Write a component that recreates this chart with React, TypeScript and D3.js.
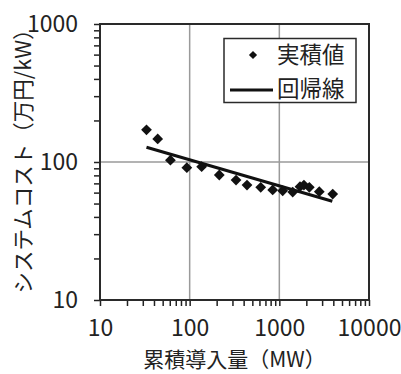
import React, { useRef, useEffect } from 'react'
import * as d3 from 'd3'

// 実績値 (cumulative MW vs cost 万円/kW)
const installedMW = [33, 44, 61, 93, 136, 214, 329, 436, 620, 843, 1090, 1410, 1700, 1880, 2160, 2790, 3940]
const costValues = [171, 147, 103, 91, 92.5, 80.5, 74, 68, 65.6, 62.7, 61.9, 60.6, 66.2, 68, 65.6, 60.9, 58.6]

// 回帰線 endpoints
const regressionMW = [33, 3900]
const regressionCost = [128, 52]

const xMajors = [10, 100, 1000, 10000]
const yMajors = [10, 100, 1000]
const xGrid = [100, 1000]
const yGrid = [100]

const width = 401
const height = 374
const margin = { top: 24, right: 32, bottom: 74, left: 100 }

const jpFont = '"Noto Sans CJK JP", "Noto Sans", sans-serif'

const App = () => {
  const svgRef = useRef<SVGSVGElement>(null)

  useEffect(() => {
    const svg = d3.select(svgRef.current)
    svg.selectAll('*').remove()

    const x = d3
      .scaleLog()
      .domain([10, 10000])
      .range([margin.left, width - margin.right])

    const y = d3
      .scaleLog()
      .domain([10, 1000])
      .range([height - margin.bottom, margin.top])

    const x0 = margin.left
    const x1 = width - margin.right
    const y0 = height - margin.bottom
    const y1 = margin.top

    // grid
    svg
      .append('g')
      .selectAll('line')
      .data(xGrid)
      .join('line')
      .attr('x1', d => x(d))
      .attr('x2', d => x(d))
      .attr('y1', y1)
      .attr('y2', y0)
      .attr('stroke', '#9a9a9a')
      .attr('stroke-width', 1.5)
    svg
      .append('g')
      .selectAll('line')
      .data(yGrid)
      .join('line')
      .attr('x1', x0)
      .attr('x2', x1)
      .attr('y1', d => y(d))
      .attr('y2', d => y(d))
      .attr('stroke', '#9a9a9a')
      .attr('stroke-width', 1.5)

    // axes
    const xAxis = g =>
      g
        .attr('transform', `translate(0,${y0})`)
        .call(
          d3
            .axisBottom(x)
            .tickValues(x.ticks())
            .tickSize(6)
            .tickSizeOuter(0)
            .tickFormat(d => (xMajors.includes(+d) ? String(d) : ''))
        )
        .call(g => g.select('.domain').remove())
        .call(g => g.selectAll('.tick line').attr('stroke', '#222').attr('stroke-width', 1.5))
        .call(g =>
          g
            .selectAll('.tick text')
            .attr('fill', '#222')
            .attr('font-family', jpFont)
            .attr('font-weight', 400)
            .attr('font-size', 23)
            .attr('y', 0)
            .attr('dy', 36)
        )

    const yAxis = g =>
      g
        .attr('transform', `translate(${x0},0)`)
        .call(
          d3
            .axisLeft(y)
            .tickValues(y.ticks())
            .tickSize(6)
            .tickSizeOuter(0)
            .tickFormat(d => (yMajors.includes(+d) ? String(d) : ''))
        )
        .call(g => g.select('.domain').remove())
        .call(g => g.selectAll('.tick line').attr('stroke', '#222').attr('stroke-width', 1.5))
        .call(g =>
          g
            .selectAll('.tick text')
            .attr('fill', '#222')
            .attr('font-family', jpFont)
            .attr('font-weight', 400)
            .attr('font-size', 23)
            .attr('x', -22)
            .attr('dy', '0.33em')
        )

    svg.append('g').call(xAxis)
    svg.append('g').call(yAxis)

    // frame
    svg
      .append('rect')
      .attr('x', x0)
      .attr('y', y1)
      .attr('width', x1 - x0)
      .attr('height', y0 - y1)
      .attr('fill', 'none')
      .attr('stroke', '#2a2a2a')
      .attr('stroke-width', 2)

    // regression line
    const line = d3
      .line<number>()
      .x((d, i) => x(regressionMW[i]))
      .y(d => y(d))
    svg
      .append('path')
      .attr('d', line(regressionCost))
      .attr('fill', 'none')
      .attr('stroke', '#111')
      .attr('stroke-width', 3)

    // points
    const diamond = d3.symbol(d3.symbolSquare, 58)
    svg
      .append('g')
      .selectAll('path')
      .data(costValues)
      .join('path')
      .attr('d', diamond())
      .attr('transform', (d, i) => `translate(${x(installedMW[i])},${y(d)}) rotate(45)`)
      .attr('fill', '#111')

    // legend
    const lg = svg.append('g')
    lg.append('rect')
      .attr('x', 224)
      .attr('y', 38.5)
      .attr('width', 132)
      .attr('height', 64)
      .attr('fill', '#fff')
      .attr('stroke', '#2a2a2a')
      .attr('stroke-width', 1.5)
    lg.append('path')
      .attr('d', d3.symbol(d3.symbolSquare, 34)())
      .attr('transform', 'translate(253,55) rotate(45)')
      .attr('fill', '#111')
    lg.append('line')
      .attr('x1', 230)
      .attr('x2', 273)
      .attr('y1', 90)
      .attr('y2', 90)
      .attr('stroke', '#111')
      .attr('stroke-width', 3)
    lg.selectAll('text')
      .data([
        { label: '実積値', cy: 55 },
        { label: '回帰線', cy: 89 }
      ])
      .join('text')
      .attr('x', 277)
      .attr('y', d => d.cy)
      .attr('dy', '0.36em')
      .attr('font-family', jpFont)
      .attr('font-size', 22.5)
      .attr('fill', '#222')
      .text(d => d.label)

    // axis titles
    svg
      .append('text')
      .attr('x', (x0 + x1) / 2)
      .attr('y', 367)
      .attr('text-anchor', 'middle')
      .attr('font-family', jpFont)
      .attr('font-size', 21)
      .attr('fill', '#222')
      .text('累積導入量（MW）')

    svg
      .append('text')
      .attr('transform', `translate(31,156) rotate(-90)`)
      .attr('text-anchor', 'middle')
      .attr('font-family', jpFont)
      .attr('font-size', 21.5)
      .attr('fill', '#222')
      .text('システムコスト（万円/kW）')
  }, [])

  return (
    <div style={{ position: 'absolute', left: 0, top: 0 }}>
      <svg ref={svgRef} width={width} height={height} viewBox={`0,0,${width},${height}`} />
    </div>
  )
}

export default App
